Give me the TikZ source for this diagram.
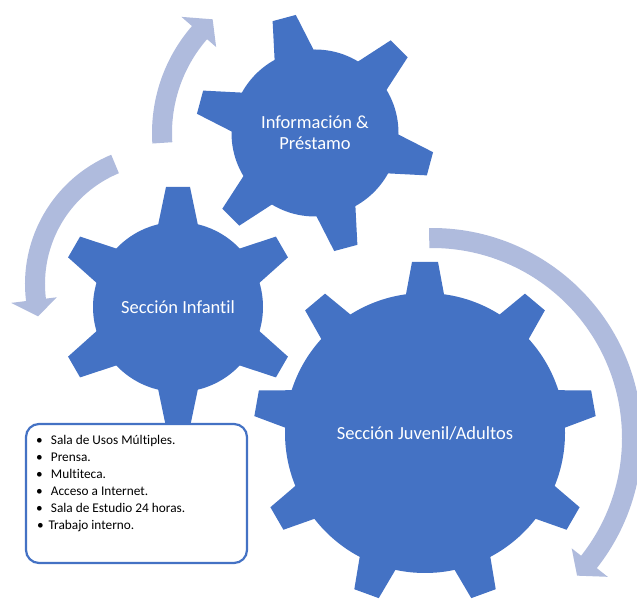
\documentclass[tikz,border=0pt]{standalone}
\usepackage{fontspec}
\setmainfont{Carlito}[Ligatures=NoCommon]
\definecolor{gearblue}{HTML}{4472C4}
\definecolor{arrowtint}{HTML}{AFBBDD}

\begin{document}
\begin{tikzpicture}[
  x=1pt, y=1pt,
  gearbody/.style={circle,fill=gearblue,inner sep=0pt,text=white,align=center,font=\fontsize{18.5}{20.7}\selectfont},
  tooth/.style={fill=gearblue},
  turn/.style={fill=arrowtint},
  listbox/.style={draw=gearblue,line width=2.2pt,rounded corners=13pt,fill=white,minimum width=221pt,minimum height=139pt},
  item/.style={anchor=base west,inner sep=0pt,font=\fontsize{13.3}{16.8}\selectfont},
  dot/.style={anchor=base,inner sep=0pt,font=\fontsize{13.3}{16.8}\selectfont},
]
\useasboundingbox (0,0) rectangle (637,599);
\clip (0,0) rectangle (637,599);

\coordinate (c1) at (315,466);
\coordinate (c2) at (178,292);
\coordinate (c3) at (425,166);
\coordinate (a2) at (165,315);
\coordinate (a3) at (432,161);

% circular arrows
\fill[turn,shift={(c1)}] (183.7:163) arc[start angle=183.7,end angle=139,radius=163]
  -- (139:177) -- (132:153) -- (139:131) -- (139:143)
  arc[start angle=139,end angle=183.7,radius=143] -- cycle;
\fill[turn,shift={(a2)}] (112.6:140) arc[start angle=112.6,end angle=187,radius=140]
  -- (187:155) -- (194.3:131) -- (187:109) -- (187:120)
  arc[start angle=187,end angle=112.6,radius=120] -- cycle;
\fill[turn,shift={(a3)}] (90.8:210) arc[start angle=90.8,end angle=-38.3,radius=210]
  -- (-38.3:224) -- (-43.5:200) -- (-38.3:178) -- (-38.3:190)
  arc[start angle=-38.3,end angle=90.8,radius=190] -- cycle;

% teeth
\foreach \a in {105,165,...,405}
  \fill[tooth,shift={(c1)},rotate=\a-90] (-21.6,74) -- (-12,119) -- (12,119) -- (21.6,74) -- cycle;
\foreach \a in {90,150,...,390}
  \fill[tooth,shift={(c2)},rotate=\a-90] (-21.6,74) -- (-12,120) -- (12,120) -- (21.6,74) -- cycle;
\foreach \a in {90,130,...,410}
  \fill[tooth,shift={(c3)},rotate=\a-90] (-21,128) -- (-13,171) -- (13,171) -- (21,128) -- cycle;

% gear bodies
\node[gearbody,minimum size=167pt] (info) at (c1) {Información \&\\Préstamo};
\node[gearbody,minimum size=170pt] (infantil) at (c2) {Sección Infantil};
\node[gearbody,minimum size=280pt] (juvenil) at (c3) {Sección Juvenil/Adultos};

% list
\node[listbox] (lista) at (136.5,105.5) {};
\foreach \t [count=\i] in {Sala de Usos Múltiples.,Prensa.,Multiteca.,Acceso a Internet.,Sala de Estudio 24 horas.} {
  \node[dot] (b\i) at (39.5,{154.2-16.9*(\i-1)}) {\textbullet};
  \node[item] (t\i) at (50.7,{154.2-16.9*(\i-1)}) {\t};
}
\node[dot] (b6) at (40.5,69.7) {\textbullet};
\node[item] (t6) at (48.3,69.7) {Trabajo interno.};
\end{tikzpicture}
\end{document}
